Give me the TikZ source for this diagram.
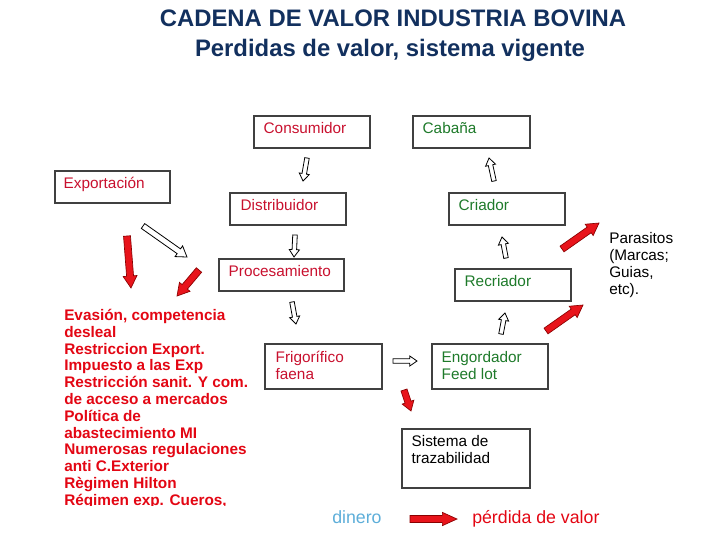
\documentclass[tikz,border=0pt]{standalone}
\usepackage{fontspec}
\setmainfont{Liberation Sans}
\usetikzlibrary{calc,fit}
\definecolor{navy}{HTML}{12305E}
\definecolor{boxred}{HTML}{C8102E}
\definecolor{listred}{HTML}{E30613}
\definecolor{boxgreen}{HTML}{1E7A2A}
\definecolor{arrred}{HTML}{E8141B}
\definecolor{arrdark}{HTML}{8A0000}
\definecolor{lblue}{HTML}{5DAED9}
\newcommand\mylines[1]{\begin{tabular}[t]{@{}l@{}}#1\end{tabular}}
\newcommand\blockarr[6]{%
  \coordinate (ba-h) at ($(#3)!#6!(#2)$);
  \path[#1] ($(#2)!#4!90:(#3)$) -- ($(ba-h)!#4!90:(#3)$) -- ($(ba-h)!#5!90:(#3)$) -- (#3)
    -- ($(ba-h)!#5!-90:(#3)$) -- ($(ba-h)!#4!-90:(#3)$) -- ($(#2)!#4!-90:(#3)$) -- cycle;}
\newcommand\hollowarr[2]{\blockarr{hollow}{#1}{#2}{1.7pt}{3.8pt}{5.5pt}}
\newcommand\redarr[2]{\blockarr{redfill}{#1}{#2}{2.6pt}{5.2pt}{9pt}}
\tikzset{
  box/.style={draw=black!75, line width=0.9pt, inner sep=0pt},
  boxtext/.style={anchor=base west, inner sep=0pt, font=\fontsize{11.5}{12.75}\selectfont},
  hollow/.style={draw=black, line width=0.6pt, fill=white, line join=miter},
  redfill/.style={draw=arrdark, line width=0.5pt, fill=arrred, line join=miter},
}
\begin{document}
\begin{tikzpicture}[x=0.75pt, y=-0.75pt]
\useasboundingbox (0,0) rectangle (720,540);

% title
\node[anchor=base, inner sep=0pt, text=navy, font=\fontsize{17.9}{22}\selectfont\bfseries] (t1) at (393,26.5) {CADENA DE VALOR INDUSTRIA BOVINA};
\node[anchor=base, inner sep=0pt, text=navy, font=\fontsize{17.9}{22}\selectfont\bfseries] (t2) at (390,56) {Perdidas de valor, sistema vigente};

% boxes
\node[box, fit={(254,116) (370,148)}] (cons) {};
\node[boxtext, text=boxred] (cons-t) at ([shift={(10,18)}]cons.north west) {Consumidor};
\node[box, fit={(413,116) (530,148)}] (caba) {};
\node[boxtext, text=boxgreen] (caba-t) at ([shift={(10,18)}]caba.north west) {Cabaña};
\node[box, fit={(55,171) (170,203)}] (expo) {};
\node[boxtext, text=boxred] (expo-t) at ([shift={(9,18)}]expo.north west) {Exportación};
\node[box, fit={(230,193) (346,225)}] (dist) {};
\node[boxtext, text=boxred] (dist-t) at ([shift={(11,18)}]dist.north west) {Distribuidor};
\node[box, fit={(449,193) (565,225)}] (cria) {};
\node[boxtext, text=boxgreen] (cria-t) at ([shift={(10,18)}]cria.north west) {Criador};
\node[box, fit={(219,259) (344,291)}] (proc) {};
\node[boxtext, text=boxred] (proc-t) at ([shift={(10,18)}]proc.north west) {Procesamiento};
\node[box, fit={(455,269) (571,301)}] (recr) {};
\node[boxtext, text=boxgreen] (recr-t) at ([shift={(10,18)}]recr.north west) {Recriador};
\node[box, fit={(265,344) (382,389)}] (frig) {};
\node[boxtext, text=boxred] (frig-t) at ([shift={(11,19)}]frig.north west) {\mylines{Frigorífico\\faena}};
\node[box, fit={(432,344) (548,389)}] (engo) {};
\node[boxtext, text=boxgreen] (engo-t) at ([shift={(10,19)}]engo.north west) {\mylines{Engordador\\Feed lot}};
\node[box, fit={(402,429) (530,488)}] (traz) {};
\node[boxtext, text=black] (traz-t) at ([shift={(10,18)}]traz.north west) {\mylines{Sistema de\\trazabilidad}};

% red list
\begin{scope}
\clip (0,300) rectangle (300,505);
\node[anchor=base west, inner sep=0pt, text=listred, font=\fontsize{11.5}{12.6}\selectfont\bfseries] (list) at (64,320.5) {\mylines{Evasión, competencia\\desleal\\Restriccion Export.\\Impuesto a las Exp\\Restricción sanit. Y com.\\de acceso a mercados\\Política de\\abastecimiento MI\\Numerosas regulaciones\\anti C.Exterior\\Règimen Hilton\\Régimen exp. Cueros,}};
\end{scope}

% parasitos
\node[anchor=base west, inner sep=0pt, font=\fontsize{11.5}{12.75}\selectfont] (para) at (609,243.5) {\mylines{Parasitos\\(Marcas;\\Guias,\\etc).}};

% legend
\node[anchor=base west, inner sep=0pt, text=lblue, font=\fontsize{13.3}{16}\selectfont] (din) at (332,523) {dinero};
\node[anchor=base west, inner sep=0pt, text=listred, font=\fontsize{13.3}{16}\selectfont] (perd) at (472,523) {pérdida de valor};

% hollow arrows
\coordinate (h1a) at (307,158); \coordinate (h1b) at (303,181);
\coordinate (h2a) at (295,235); \coordinate (h2b) at (294,257);
\coordinate (h3a) at (292,302); \coordinate (h3b) at (296,324);
\coordinate (h4a) at (393,361); \coordinate (h4b) at (417,361);
\coordinate (h5a) at (494,181); \coordinate (h5b) at (489,158);
\coordinate (h6a) at (506,258); \coordinate (h6b) at (502,237);
\coordinate (h7a) at (501,334); \coordinate (h7b) at (505,313);
\coordinate (h8a) at (143,226); \coordinate (h8b) at (187,257);
\hollowarr{h1a}{h1b}
\hollowarr{h2a}{h2b}
\hollowarr{h3a}{h3b}
\hollowarr{h4a}{h4b}
\hollowarr{h5a}{h5b}
\hollowarr{h6a}{h6b}
\hollowarr{h7a}{h7b}
\blockarr{hollow}{h8a}{h8b}{2.2pt}{4.9pt}{7.5pt}

% red arrows
\coordinate (r1a) at (127,236); \coordinate (r1b) at (131,288);
\coordinate (r2a) at (199,270); \coordinate (r2b) at (177,296);
\coordinate (r3a) at (404,390); \coordinate (r3b) at (411,411);
\coordinate (r4a) at (562,249); \coordinate (r4b) at (599,223);
\coordinate (r5a) at (546,331); \coordinate (r5b) at (583,305);
\coordinate (r6a) at (410,519); \coordinate (r6b) at (457,519);
\redarr{r1a}{r1b}
\redarr{r2a}{r2b}
\blockarr{redfill}{r3a}{r3b}{2.4pt}{4.6pt}{7pt}
\redarr{r4a}{r4b}
\redarr{r5a}{r5b}
\blockarr{redfill}{r6a}{r6b}{2.6pt}{5pt}{11pt}
\end{tikzpicture}
\end{document}
